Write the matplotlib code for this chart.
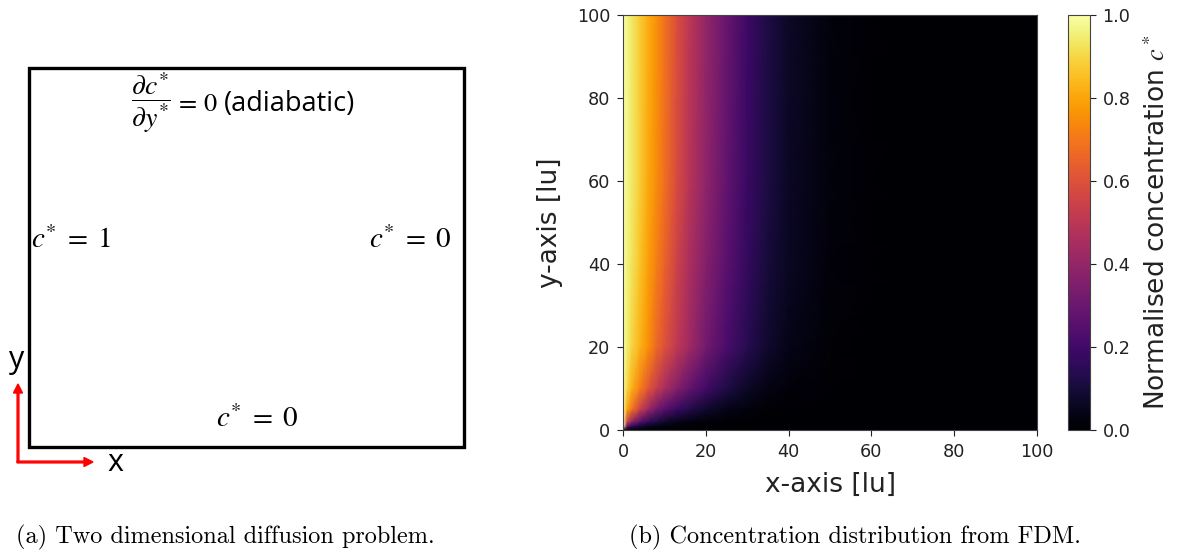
import matplotlib
matplotlib.use("Agg")
import matplotlib.pyplot as plt
import numpy as np
from matplotlib.patches import Rectangle, FancyArrow

plt.rcParams['mathtext.fontset'] = 'stix'

# concentration (rows = y, columns = x)
x_pts = [0, 1, 2, 4, 6, 8, 10, 13, 16, 20, 25, 30, 35, 40, 50, 60, 80, 100]
y_pts = [0, 1, 2, 5, 10, 20, 40, 60, 100]
c_y0   = [0.0, 0.0, 0.0, 0.0, 0.0, 0.0, 0.0, 0.0, 0.0, 0.0, 0.0, 0.0, 0.0, 0.0, 0.0, 0.0, 0.0, 0.0]
c_y1   = [1.0, 0.30, 0.18, 0.10, 0.06, 0.04, 0.03, 0.02, 0.01, 0.005, 0.002, 0.0, 0.0, 0.0, 0.0, 0.0, 0.0, 0.0]
c_y2   = [1.0, 0.55, 0.40, 0.25, 0.17, 0.12, 0.08, 0.05, 0.03, 0.015, 0.007, 0.003, 0.0, 0.0, 0.0, 0.0, 0.0, 0.0]
c_y5   = [1.0, 0.80, 0.70, 0.55, 0.42, 0.32, 0.25, 0.18, 0.13, 0.08, 0.04, 0.02, 0.01, 0.005, 0.001, 0.0, 0.0, 0.0]
c_y10  = [1.0, 0.90, 0.83, 0.72, 0.62, 0.53, 0.45, 0.36, 0.28, 0.20, 0.12, 0.07, 0.035, 0.018, 0.004, 0.001, 0.0, 0.0]
c_y20  = [1.0, 0.95, 0.90, 0.83, 0.76, 0.67, 0.60, 0.51, 0.43, 0.32, 0.22, 0.14, 0.08, 0.04, 0.01, 0.003, 0.0, 0.0]
c_y40  = [1.0, 0.96, 0.93, 0.86, 0.79, 0.72, 0.65, 0.55, 0.46, 0.36, 0.26, 0.17, 0.10, 0.06, 0.018, 0.004, 0.0, 0.0]
c_y60  = [1.0, 0.97, 0.94, 0.88, 0.81, 0.75, 0.68, 0.58, 0.49, 0.39, 0.28, 0.18, 0.115, 0.065, 0.02, 0.005, 0.0, 0.0]
c_y100 = [1.0, 0.97, 0.94, 0.88, 0.82, 0.76, 0.69, 0.59, 0.50, 0.40, 0.29, 0.19, 0.12, 0.07, 0.02, 0.006, 0.0, 0.0]
conc = np.array([c_y0, c_y1, c_y2, c_y5, c_y10, c_y20, c_y40, c_y60, c_y100])

fig = plt.figure(figsize=(11.77, 5.56), dpi=100)

# left panel: problem sketch, drawn in pixel units
ax0 = fig.add_axes([0, 0, 1, 1])
ax0.set_xlim(0, 1177)
ax0.set_ylim(556, 0)
ax0.axis('off')
ax0.add_patch(Rectangle((29, 68), 435, 379, fill=False, lw=2.4, ec='black'))
ax0.text(131, 103, r'$\dfrac{\partial c^{*}}{\partial y^{*}}$', fontsize=20, ha='left', va='center')
ax0.text(175, 104, r'$=\,0$', fontsize=19, ha='left', va='center')
ax0.text(224, 104, '(adiabatic)', fontsize=19.5, family='Open Sans', ha='left', va='center')
ax0.text(31, 240, r'$c^{*}\;=\;1$', fontsize=21, ha='left', va='center')
ax0.text(451, 240, r'$c^{*}\;=\;0$', fontsize=21, ha='right', va='center')
ax0.text(257, 419, r'$c^{*}\;=\;0$', fontsize=21, ha='center', va='center')
ax0.add_patch(FancyArrow(18, 462, 0, -78, width=1.8, head_width=9, head_length=9,
                         length_includes_head=True, color='red'))
ax0.add_patch(FancyArrow(17, 462, 76, 0, width=1.8, head_width=9, head_length=9,
                         length_includes_head=True, color='red'))
ax0.text(17, 360, 'y', fontsize=22, family='Open Sans', ha='center', va='center')
ax0.text(115, 463, 'x', fontsize=22, family='Open Sans', ha='center', va='center')
ax0.text(225, 537, '(a) Two dimensional diffusion problem.', fontsize=17.5, family='cmr10',
         ha='center', va='center')
ax0.text(855, 537, '(b) Concentration distribution from FDM.', fontsize=17.5, family='cmr10',
         ha='center', va='center')

# right panel: FDM result
ax = fig.add_axes([0.5293, 0.2266, 0.3518, 0.7464])
mesh = ax.pcolormesh(x_pts, y_pts, conc, cmap='inferno', vmin=0, vmax=1, shading='gouraud')
ax.set_xlim(0, 100)
ax.set_ylim(0, 100)
ax.set_xticks([0, 20, 40, 60, 80, 100])
ax.set_yticks([0, 20, 40, 60, 80, 100])
ax.tick_params(labelsize=12.7, colors='#222222', length=4.5, pad=4.5)
for sp in ax.spines.values():
    sp.set_color('#444444')
ax.set_xlabel('x-axis [lu]', fontsize=19, color='#222222', labelpad=8)
ax.set_ylabel('y-axis [lu]', fontsize=19, color='#222222', labelpad=10)

cax = fig.add_axes([0.9074, 0.2266, 0.0187, 0.7464])
cb = fig.colorbar(mesh, cax=cax, ticks=[0, 0.2, 0.4, 0.6, 0.8, 1.0], format='%.1f')
cb.ax.tick_params(labelsize=12.7, colors='#222222', length=4.5, pad=4.5)
cb.outline.set_edgecolor('#444444')
cb.set_label(r'Normalised concentration $c^*$', fontsize=19, color='#222222', labelpad=10)

fig.savefig('out.png', dpi=100)
